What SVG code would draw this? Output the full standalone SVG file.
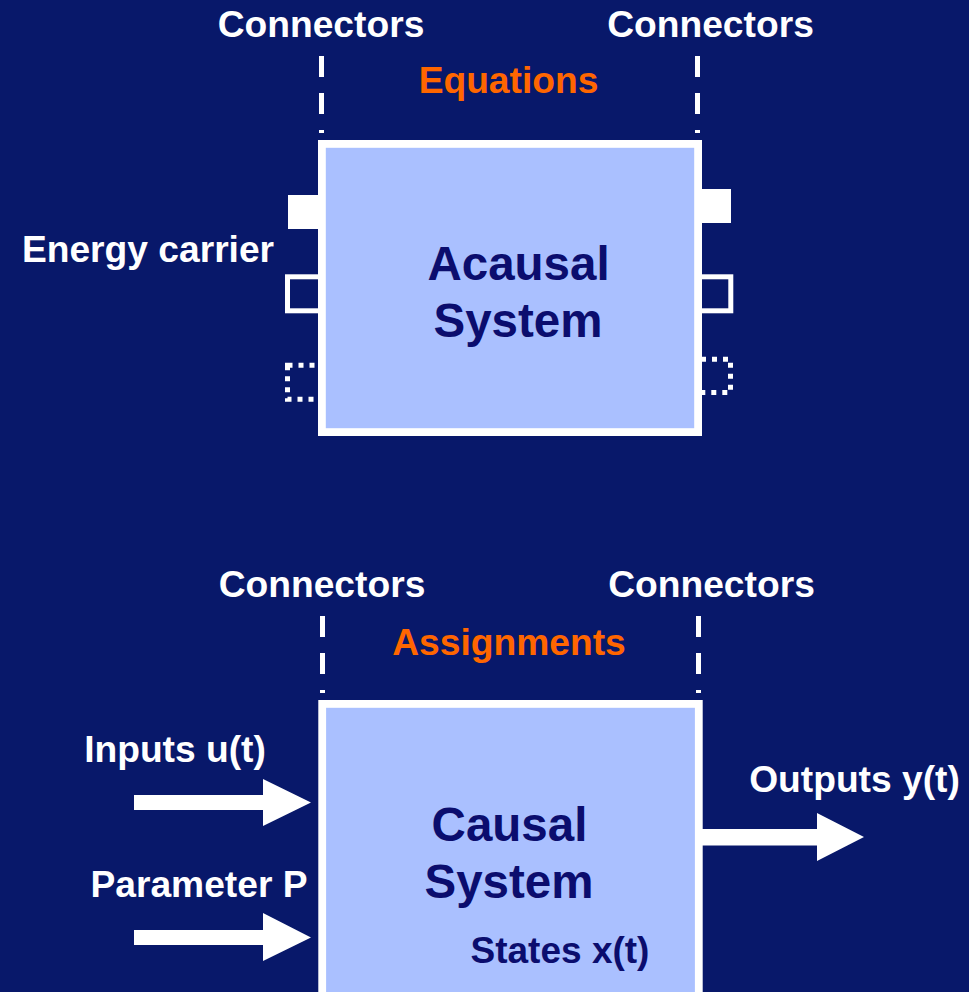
<svg xmlns="http://www.w3.org/2000/svg" width="969" height="992" viewBox="0 0 969 992">
<style>
.lbl{font-family:"Liberation Sans",Arial,sans-serif;font-weight:bold;font-size:37.2px;fill:#ffffff}
.eq{font-family:"Liberation Sans",Arial,sans-serif;font-weight:bold;font-size:37.2px;fill:#ff6600}
.big{font-family:"Liberation Sans",Arial,sans-serif;font-weight:bold;font-size:47.5px;fill:#0b0d6e;text-anchor:middle}
.st{font-family:"Liberation Sans",Arial,sans-serif;font-weight:bold;font-size:37px;fill:#0b0d6e}
.box{fill:#aac0ff;stroke:#ffffff;stroke-width:7.8}
.dash{stroke:#ffffff;stroke-width:5;stroke-dasharray:21 16}
.port{fill:#ffffff}
.hollow{fill:none;stroke:#ffffff;stroke-width:5}
.dotted{fill:none;stroke:#ffffff;stroke-width:5;stroke-dasharray:5 6}
.arrow{fill:#ffffff}
</style>
<rect x="0" y="0" width="969" height="992" fill="#08186a"/>

<g id="connectors">
  <line class="dash" x1="321.5" y1="56" x2="321.5" y2="133"/>
  <line class="dash" x1="697.5" y1="56" x2="697.5" y2="133"/>
  <line class="dash" x1="322.5" y1="616" x2="322.5" y2="693"/>
  <line class="dash" x1="698.5" y1="616" x2="698.5" y2="693"/>
  <polygon class="arrow" points="134,795 263,795 263,779 311,802.5 263,826 263,810 134,810"/>
  <polygon class="arrow" points="134,930 263,930 263,913 311,937.5 263,961 263,945 134,945"/>
  <polygon class="arrow" points="700,829 817,829 817,813 864,837 817,861 817,845.5 700,845.5"/>
</g>

<g id="acausal-ports">
  <rect class="port" x="288" y="195" width="40" height="34"/>
  <rect class="port" x="692" y="189" width="39" height="34"/>
  <rect class="hollow" x="287.5" y="276.8" width="40" height="34"/>
  <rect class="hollow" x="690" y="276.8" width="40.8" height="34"/>
  <rect class="dotted" x="287.5" y="365.2" width="40" height="34"/>
  <rect class="dotted" x="690" y="359.2" width="40.5" height="33.3"/>
</g>

<g id="acausal-system">
  <rect class="box" x="321.9" y="143.9" width="376.2" height="288.2"/>
  <text class="big" x="518.5" y="280">Acausal</text>
  <text class="big" x="518" y="337">System</text>
</g>

<g id="causal-system">
  <rect class="box" x="322.2" y="703.9" width="376.6" height="400"/>
  <text class="big" x="509.5" y="841">Causal</text>
  <text class="big" x="509" y="898">System</text>
  <text class="st" x="560" y="963" text-anchor="middle">States x(t)</text>
</g>

<g id="labels">
  <text class="lbl" x="321" y="37" text-anchor="middle">Connectors</text>
  <text class="lbl" x="710.5" y="37" text-anchor="middle">Connectors</text>
  <text class="eq" x="508.5" y="93" text-anchor="middle">Equations</text>
  <text class="lbl" x="148" y="262" text-anchor="middle">Energy carrier</text>
  <text class="lbl" x="322" y="597" text-anchor="middle">Connectors</text>
  <text class="lbl" x="711.5" y="597" text-anchor="middle">Connectors</text>
  <text class="eq" x="509" y="655" text-anchor="middle">Assignments</text>
  <text class="lbl" x="175" y="762" text-anchor="middle">Inputs u(t)</text>
  <text class="lbl" x="199" y="897" text-anchor="middle">Parameter P</text>
  <text class="lbl" x="854.5" y="792" text-anchor="middle">Outputs y(t)</text>
</g>
</svg>
